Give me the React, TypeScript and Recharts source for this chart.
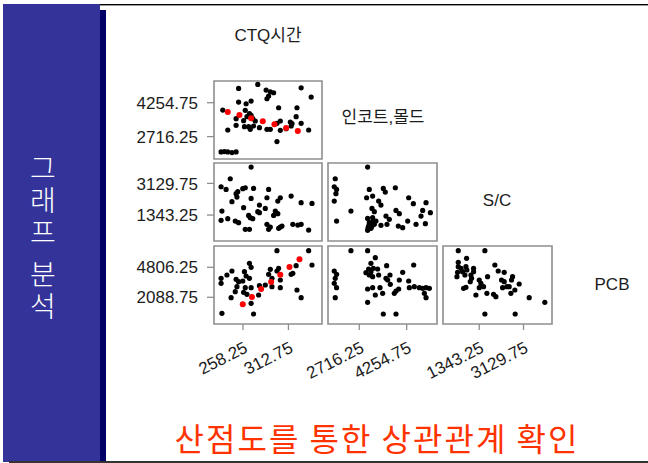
import React from 'react';
import { ScatterChart, Scatter, XAxis, YAxis, ReferenceArea } from 'recharts';

type Pt = [number, number];

// Variable names shown on the diagonal of the scatter matrix
const varNames = ['CTQ시간', '인코트,몰드', 'S/C', 'PCB'];

// Axis ranges and tick values per variable
const ctqDomain: Pt = [223.5, 353];
const incoatDomain: Pt = [1700, 5240];
const scDomain: Pt = [-120, 4280];
const pcbDomain: Pt = [-330, 6735];

const ctqTicks = [258.25, 312.75];
const incoatTicks = [2716.25, 4254.75];
const scTicks = [1343.25, 3129.75];
const pcbTicks = [2088.75, 4806.25];

// 인코트,몰드 against CTQ시간
const ctqVsIncoat: Pt[] = [
  [253, 4902], [276, 5083], [286, 4827], [291, 4751], [295, 4706], [289, 4555], [287, 4435], [328, 4932],
  [340, 4510], [268, 4329], [253, 4284], [262, 4208], [261, 3907], [234, 3922], [266, 3756], [263, 3620],
  [250, 3530], [270, 3530], [259, 3439], [301, 4027], [323, 4027], [322, 3620], [315, 3379], [303, 3424],
  [328, 3319], [317, 3304], [299, 3319], [250, 3228], [260, 3168], [265, 3168], [267, 3047], [271, 3198],
  [278, 3123], [287, 3047], [291, 3047], [303, 3002], [310, 3077], [316, 3198], [337, 3017], [240, 3017],
  [299, 2489], [232, 2022], [236, 2037], [240, 2022], [245, 1991], [250, 2022], [268, 3680], [273, 3424],
];
const ctqVsIncoatTrend: Pt[] = [
  [240, 3831], [254, 3696], [268, 3545], [282, 3409], [296, 3273], [310, 3107], [324, 2972],
];

// S/C against CTQ시간
const ctqVsSc: Pt[] = [
  [268, 4050], [243, 3392], [232, 2941], [238, 2791], [250, 2547], [252, 2660], [258, 2829], [261, 2885],
  [271, 2847], [289, 2791], [251, 2359], [268, 2284], [287, 2321], [245, 2096], [303, 2321], [300, 2133],
  [316, 2415], [328, 2040], [341, 2002], [278, 1908], [259, 1758], [285, 1720], [276, 1532], [278, 1476],
  [297, 1570], [300, 1419], [295, 1325], [233, 1570], [265, 1325], [267, 1194], [270, 1138], [232, 1044],
  [240, 1138], [249, 1006], [253, 912], [261, 536], [266, 536], [287, 818], [291, 668], [289, 536],
  [301, 593], [305, 724], [318, 818], [324, 781], [328, 818], [337, 499], [303, 668],
];

// PCB against CTQ시간
const ctqVsPcb: Pt[] = [
  [299, 6313], [337, 6313], [341, 5015], [322, 4955], [318, 4260], [301, 4713], [299, 4472], [291, 4622],
  [289, 4170], [293, 3807], [303, 3656], [303, 2962], [266, 5166], [268, 4804], [260, 4411], [262, 4019],
  [266, 3807], [258, 3566], [253, 3506], [250, 3717], [245, 4472], [239, 4109], [232, 3807], [232, 3355],
  [251, 3053], [261, 2962], [268, 2962], [278, 3143], [285, 3203], [293, 3053], [249, 2600], [259, 2539],
  [263, 2358], [277, 2298], [244, 2056], [268, 1543], [323, 2751], [328, 2056], [233, 637], [271, 577],
  [316, 4170],
];
const ctqVsPcbTrend: Pt[] = [
  [258, 1452], [269, 2117], [280, 2841], [292, 3475], [303, 4140], [314, 4834], [326, 5528],
];

// S/C against 인코트,몰드
const incoatVsSc: Pt[] = [
  [2987, 4050], [1935, 3392], [1903, 2941], [1979, 2791], [1957, 2547], [1903, 2133], [1979, 1006], [2445, 1570],
  [3041, 2791], [2954, 2321], [3149, 2415], [3496, 2847], [3561, 2641], [3887, 2885], [3345, 2133], [3420, 1908],
  [3128, 1720], [3204, 1532], [2987, 1156], [3149, 1194], [3041, 912], [3019, 724], [3095, 593], [3204, 818],
  [3258, 1006], [3420, 762], [3583, 1288], [3691, 1100], [3616, 818], [3908, 1607], [4017, 1419], [3984, 724],
  [4125, 630], [4288, 1006], [4320, 2321], [4472, 1983], [4559, 818], [4721, 1288], [4775, 1607], [4884, 2040],
  [5025, 1476], [4862, 856], [2987, 480], [3060, 850], [3120, 700], [3000, 620], [3150, 980],
];

// PCB against 인코트,몰드
const incoatVsPcb: Pt[] = [
  [2445, 6313], [2987, 6313], [3236, 5679], [3095, 5166], [3171, 4713], [3312, 4653], [3019, 4653], [2933, 4321],
  [3041, 4109], [3149, 3958], [3345, 4109], [3605, 4955], [3713, 4109], [3583, 3807], [3637, 3656], [4125, 4351],
  [4483, 5015], [4017, 3656], [4320, 3566], [4342, 2962], [4504, 3053], [4667, 2962], [4775, 2902], [4884, 2962],
  [4992, 2902], [4830, 2449], [4884, 2056], [1903, 4472], [1979, 4170], [1935, 3807], [1903, 3355], [1979, 2962],
  [1935, 2056], [2987, 2841], [3149, 2962], [3388, 2962], [3236, 2298], [3475, 2449], [3908, 2660], [3995, 2841],
  [3854, 2449], [2987, 1634], [3496, 577], [3908, 577], [3724, 3264], [3095, 4411],
];

// PCB against S/C
const scVsPcb: Pt[] = [
  [496, 6313], [1571, 6313], [496, 5256], [496, 4864], [604, 4713], [469, 4351], [442, 3958], [671, 4411],
  [832, 5619], [805, 4864], [845, 4562], [765, 4109], [1114, 4713], [1007, 4109], [1034, 3807], [980, 3506],
  [1114, 4411], [711, 2902], [805, 2992], [1208, 2298], [1343, 3656], [1410, 3355], [1517, 3053], [1343, 2962],
  [1679, 3958], [1974, 5015], [2109, 4472], [2351, 4351], [1921, 2358], [2015, 2147], [1652, 2449], [2243, 3656],
  [2284, 2962], [2458, 3053], [2351, 3506], [2687, 3958], [2646, 3656], [2955, 3294], [2781, 2751], [2620, 2449],
  [3359, 2056], [3990, 1634], [1571, 577], [2794, 577], [2552, 3053],
];

const toRows = (pts: Pt[]) => pts.map(([x, y]) => ({ x, y }));

const LATIN = '"Liberation Sans", Arial, "Noto Sans CJK KR", sans-serif';
const HANGUL = '"Noto Sans CJK KR", "Liberation Sans", sans-serif';
const FRAME = '#8e8e8e';
const TEXT = '#1c1c1c';

const dot = (fill: string, r: number) => (props: any) =>
  <circle cx={props.cx} cy={props.cy} r={r} fill={fill} />;

const YTick = (props: any) => {
  const { x, y, payload } = props;
  return (
    <text x={x} y={y} dy="0.36em" textAnchor="end" fontSize={17} fill={TEXT} fontFamily={LATIN}>
      {payload.value}
    </text>
  );
};

const XTick = (props: any) => {
  const { x, y, payload } = props;
  const px = x + 3;
  const py = y + 16;
  return (
    <text x={px} y={py} dy="0.36em" textAnchor="end" fontSize={17} fill={TEXT} fontFamily={LATIN}
      transform={`rotate(-27 ${px} ${py})`}>
      {payload.value}
    </text>
  );
};

type PanelProps = {
  left: number; top: number; width: number; height: number;
  xDomain: Pt; yDomain: Pt; xTicks?: number[]; yTicks?: number[];
  points: Pt[]; trend?: Pt[];
};

function Panel({ left, top, width, height, xDomain, yDomain, xTicks, yTicks, points, trend }: PanelProps) {
  const ML = 90, MR = 4, MT = 4, MB = 64;
  // a visible axis occupies 1px, taken out of the margin so the plot box stays put
  const mLeft = ML - (yTicks ? 1 : 0);
  const mBottom = MB - (xTicks ? 1 : 0);
  return (
    <div style={{ position: 'absolute', left: left - ML, top: top - MT }}>
      <ScatterChart width={width + ML + MR} height={height + MT + MB}
        margin={{ left: mLeft, right: MR, top: MT, bottom: mBottom }}>
        <XAxis type="number" dataKey="x" domain={xDomain} allowDataOverflow
          ticks={xTicks ?? []} hide={!xTicks} height={1} interval={0}
          axisLine={false} tickLine={{ stroke: FRAME, strokeWidth: 1.3 }} tickSize={6} tickMargin={0}
          tick={<XTick />} />
        <YAxis type="number" dataKey="y" domain={yDomain} allowDataOverflow
          ticks={yTicks ?? []} hide={!yTicks} width={1} interval={0}
          axisLine={false} tickLine={{ stroke: FRAME, strokeWidth: 1.3 }} tickSize={7} tickMargin={9}
          tick={<YTick />} />
        <ReferenceArea x1={xDomain[0]} x2={xDomain[1]} y1={yDomain[0]} y2={yDomain[1]}
          fill="none" stroke={FRAME} strokeWidth={1.6} ifOverflow="visible" />
        <Scatter data={toRows(points)} isAnimationActive={false} shape={dot('#000000', 2.6)} />
        {trend && (
          <Scatter data={toRows(trend)} isAnimationActive={false} shape={dot('#ff0000', 3)} />
        )}
      </ScatterChart>
    </div>
  );
}

const colX = [214, 328, 443];
const colW = [108, 109, 109];
const rowY = [81, 163, 246];
const rowH = 78;

const diagLabels: { text: string; cx: number; cy: number }[] = [
  { text: varNames[0], cx: 268, cy: 35 },
  { text: varNames[1], cx: 383, cy: 117 },
  { text: varNames[2], cx: 497, cy: 200 },
  { text: varNames[3], cx: 612, cy: 284 },
];

// side band caption, written top to bottom, one word per column block
const sideCaption = [
  { text: '그래프', top: 154 },
  { text: '분석', top: 260 },
];

export default function App() {
  return (
    <div style={{ position: 'absolute', left: 0, top: 0, width: 648, height: 463, background: '#ffffff', overflow: 'hidden' }}>
      {/* side band */}
      <div style={{ position: 'absolute', left: 3, top: 4, width: 97, height: 458, background: '#333399' }} />
      <div style={{ position: 'absolute', left: 100, top: 10, width: 6, height: 452, background: '#000066' }} />
      <div style={{ position: 'absolute', left: 100, top: 4, width: 548, height: 1, background: '#000000' }} />
      <div style={{ position: 'absolute', left: 100, top: 5, width: 548, height: 1, background: '#9a9a9a' }} />
      <div style={{ position: 'absolute', left: 9, top: 461, width: 639, height: 2, background: '#333333' }} />
      {sideCaption.map((w) => (
        <div key={w.text} style={{
          position: 'absolute', left: 29, top: w.top, width: 28,
          writingMode: 'vertical-rl', textOrientation: 'upright',
          fontFamily: HANGUL, fontSize: 28, fontWeight: 300, letterSpacing: 4, lineHeight: '28px',
          color: '#ffffff', whiteSpace: 'nowrap',
        }}>{w.text}</div>
      ))}

      {diagLabels.map((d) => (
        <div key={d.text} style={{
          position: 'absolute', left: d.cx, top: d.cy, transform: 'translate(-50%, -50%)',
          fontFamily: LATIN, fontSize: 17, color: TEXT, whiteSpace: 'nowrap', lineHeight: 1,
        }}>{d.text}</div>
      ))}

      <Panel left={colX[0]} top={rowY[0]} width={colW[0]} height={rowH}
        xDomain={ctqDomain} yDomain={incoatDomain} yTicks={incoatTicks}
        points={ctqVsIncoat} trend={ctqVsIncoatTrend} />
      <Panel left={colX[0]} top={rowY[1]} width={colW[0]} height={rowH}
        xDomain={ctqDomain} yDomain={scDomain} yTicks={scTicks}
        points={ctqVsSc} />
      <Panel left={colX[1]} top={rowY[1]} width={colW[1]} height={rowH}
        xDomain={incoatDomain} yDomain={scDomain}
        points={incoatVsSc} />
      <Panel left={colX[0]} top={rowY[2]} width={colW[0]} height={rowH}
        xDomain={ctqDomain} yDomain={pcbDomain} xTicks={ctqTicks} yTicks={pcbTicks}
        points={ctqVsPcb} trend={ctqVsPcbTrend} />
      <Panel left={colX[1]} top={rowY[2]} width={colW[1]} height={rowH}
        xDomain={incoatDomain} yDomain={pcbDomain} xTicks={incoatTicks}
        points={incoatVsPcb} />
      <Panel left={colX[2]} top={rowY[2]} width={colW[2]} height={rowH}
        xDomain={scDomain} yDomain={pcbDomain} xTicks={scTicks}
        points={scVsPcb} />

      <div style={{
        position: 'absolute', left: 77, top: 421, width: 600, textAlign: 'center',
        fontFamily: HANGUL, fontSize: 32, letterSpacing: 2, lineHeight: 1, color: '#ff3300', whiteSpace: 'nowrap',
      }}>산점도를 통한 상관관계 확인</div>
    </div>
  );
}
